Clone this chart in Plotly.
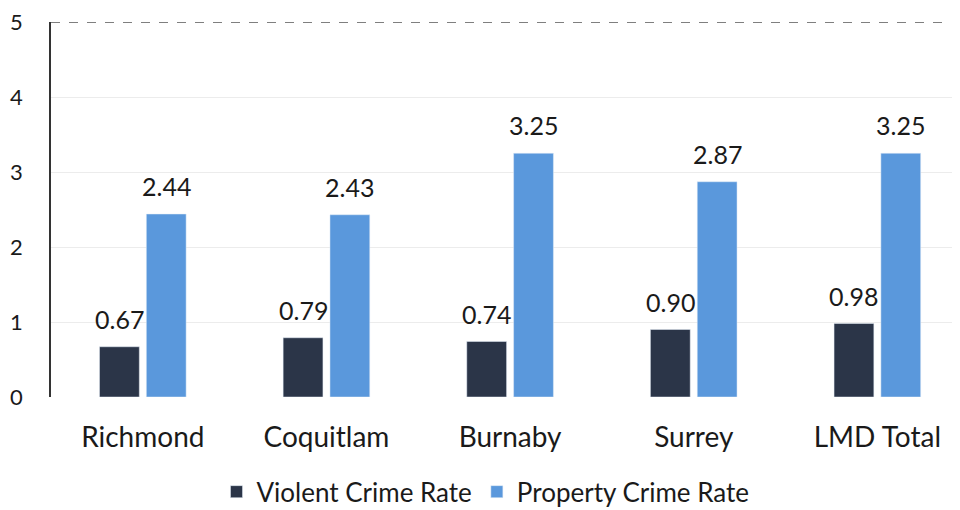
import plotly.graph_objects as go

categories = ["Richmond", "Coquitlam", "Burnaby", "Surrey", "LMD Total"]
violent = [0.67, 0.79, 0.74, 0.90, 0.98]
property_rate = [2.44, 2.43, 3.25, 2.87, 3.25]
y_ticks = [0, 1, 2, 3, 4, 5]

FONT = "Lato, Open Sans, sans-serif"
BARGAP = 0.49
X_RANGE = [-0.5, 4.45]
PLOT_W = 909

fig = go.Figure()
fig.add_trace(go.Bar(
    x=categories, y=violent, name="Violent Crime Rate",
    marker=dict(color="#2b3548"),
))
fig.add_trace(go.Bar(
    x=categories, y=property_rate, name="Property Crime Rate",
    marker=dict(color="#5a98dc"),
))

# value labels above each bar (offset to the bar slot within the group)
px_per_cat = PLOT_W / (X_RANGE[1] - X_RANGE[0])
slot = px_per_cat * (1 - BARGAP) / 2
for series, sign in ((violent, -1), (property_rate, 1)):
    for cat, val in zip(categories, series):
        fig.add_annotation(
            x=cat, y=val, text=f"{val:.2f}", showarrow=False,
            xshift=sign * slot / 2, yanchor="bottom", yshift=11,
            font=dict(size=25, color="#1a1a1a", family=FONT),
        )

fig.update_layout(
    width=952, height=502,
    margin=dict(l=43, r=0, t=14, b=113, autoexpand=False),
    paper_bgcolor="white", plot_bgcolor="white",
    barmode="group", bargap=BARGAP, bargroupgap=0.15,
    font=dict(family=FONT, size=25, color="#1a1a1a"),
    showlegend=True,
    legend=dict(orientation="h", x=0.478, xanchor="center", y=-0.19, yanchor="top",
                font=dict(size=26, family=FONT), traceorder="normal"),
    xaxis=dict(range=X_RANGE, showline=False, ticks="", showgrid=False,
               automargin=False, tickfont=dict(size=28, family=FONT),
               ticklabelstandoff=21),
    yaxis=dict(range=[0, 5], tickvals=y_ticks, showgrid=True, gridcolor="#ececec",
               showline=True, linecolor="#333333", linewidth=1.5, ticks="",
               automargin=False, zeroline=False, ticklabeloverflow="allow",
               tickfont=dict(size=22, family=FONT), ticklabelstandoff=22),
)
fig.add_shape(type="line", xref="paper", yref="y", x0=0, x1=0.983, y0=5, y1=5,
              line=dict(color="#555555", width=1.5, dash="dash"))

fig.write_html("out.html")
